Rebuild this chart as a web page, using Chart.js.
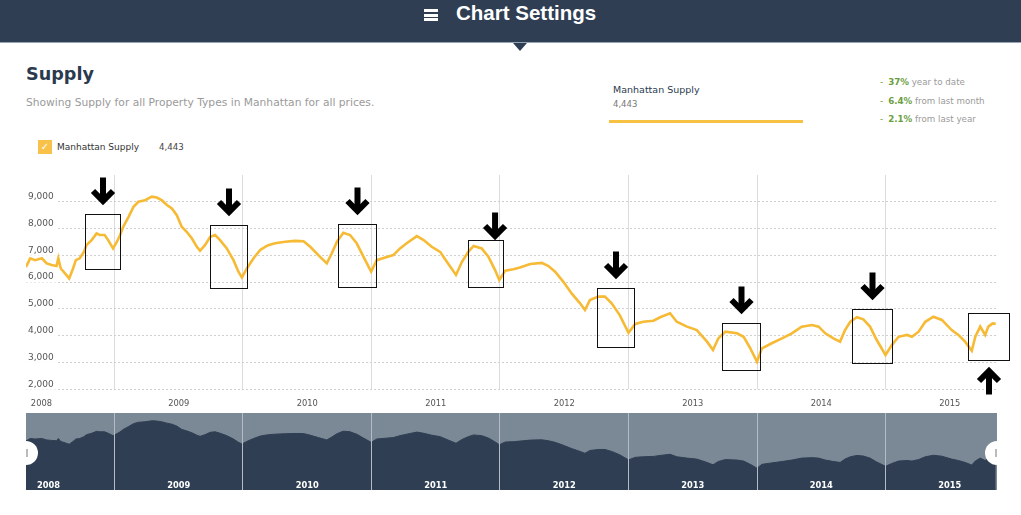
<!DOCTYPE html>
<html><head><meta charset="utf-8">
<script src="https://cdn.jsdelivr.net/npm/chart.js@4.4.1/dist/chart.umd.min.js"></script>
<style>
html,body{margin:0;padding:0;background:#fff;width:1021px;height:515px;overflow:hidden;font-family:"DejaVu Sans",Verdana,sans-serif;}
.a{position:absolute;white-space:nowrap;}
#hdr{left:0;top:0;width:1021px;height:42px;background:#2f3e52;}
#hdrline{left:0;top:42px;width:1021px;height:1px;background:#97a6b6;}
#hamb i{position:absolute;left:0;width:14px;height:3px;background:#fff;}
#hdrtxt{left:456px;top:1px;height:29px;line-height:29px;font:bold 20.5px "Liberation Sans",Arial,sans-serif;color:#fff;}
#tri{left:513px;top:43px;width:0;height:0;border-left:7px solid transparent;border-right:7px solid transparent;border-top:8px solid #2f3e52;}
#title{left:26px;top:66px;line-height:17.6px;font-weight:bold;font-size:17.6px;color:#2b3a4e;}
#sub{left:26px;top:96px;line-height:13px;font-size:10.7px;color:#9a9a9a;}
#lgbox{left:38px;top:140px;width:14px;height:14px;background:#f8c24a;color:#fff;font-size:10px;line-height:14px;text-align:center;}
#lgname{left:57px;top:141px;line-height:12px;font-size:9px;color:#333;}
#lgval{left:159px;top:141px;line-height:12px;font-size:8.6px;color:#444;}
#rpname{left:613px;top:84px;line-height:12px;font-size:9.5px;color:#2b3a4e;}
#rpval{left:613px;top:98px;line-height:12px;font-size:8.5px;color:#777;}
#rpbar{left:609px;top:120px;width:194px;height:3px;background:#f7c244;}
.st{left:880px;line-height:12px;font-size:8.7px;color:#9a9a9a;}
.st b{color:#6b9e3f;}
.st .d{color:#6b9e3f;margin-right:5px;}
canvas{position:absolute;}
#main{left:0;top:165px;}
#nav{left:26px;top:413px;background:#7b8896;}
.handle{position:absolute;top:441px;width:24px;height:24px;border-radius:50%;background:#fff;}
.handle i{position:absolute;top:8px;width:2px;height:8px;background:#bbb;}
</style></head>
<body>
<div id="hdr" class="a"></div>
<div id="hdrline" class="a"></div>
<div id="hamb" class="a" style="left:424px;top:9px;width:14px;height:13px;"><i style="top:0"></i><i style="top:4.5px"></i><i style="top:9px"></i></div>
<div id="hdrtxt" class="a">Chart Settings</div>
<div id="tri" class="a"></div>
<div id="title" class="a">Supply</div>
<div id="sub" class="a">Showing Supply for all Property Types in Manhattan for all prices.</div>
<div id="lgbox" class="a">✓</div>
<div id="lgname" class="a"></div>
<div id="lgval" class="a"></div>
<div id="rpname" class="a"></div>
<div id="rpval" class="a"></div>
<div id="rpbar" class="a"></div>
<div id="stats"></div>
<canvas id="main" width="1021" height="245"></canvas>
<canvas id="nav" width="971" height="77"></canvas>
<div class="handle" style="left:14px"><i style="left:12px"></i></div>
<div class="handle" style="left:985px"><i style="left:10px"></i></div>
<script>
// ---------- data ----------
const seriesName = "Manhattan Supply";
const dates = ["2008-04-24","2008-05-06","2008-05-20","2008-06-08","2008-06-22","2008-07-06","2008-07-20","2008-07-25","2008-08-01","2008-08-13","2008-08-25","2008-09-05","2008-09-13","2008-09-24","2008-10-06","2008-10-13","2008-10-28","2008-11-11","2008-11-20","2008-12-04","2008-12-14","2008-12-28",
"2009-01-08","2009-01-17","2009-01-26","2009-02-10","2009-02-24","2009-03-10","2009-03-29","2009-04-17","2009-05-01","2009-05-15","2009-05-30","2009-06-13","2009-06-27","2009-07-11","2009-07-25","2009-08-09","2009-08-23","2009-09-01","2009-09-15","2009-09-30","2009-10-14","2009-10-28","2009-11-16","2009-12-05","2009-12-19","2009-12-29",
"2010-01-12","2010-01-31","2010-02-19","2010-03-05","2010-03-14","2010-04-02","2010-05-01","2010-05-29","2010-06-22","2010-07-11","2010-08-03","2010-08-27","2010-09-10","2010-09-25","2010-10-13","2010-11-01","2010-11-20","2010-12-09","2010-12-31",
"2011-01-16","2011-02-09","2011-03-04","2011-03-23","2011-04-11","2011-05-10","2011-05-29","2011-06-21","2011-07-15","2011-08-03","2011-08-29","2011-09-15","2011-10-03","2011-10-18","2011-11-10","2011-11-29","2011-12-18","2011-12-30",
"2012-01-16","2012-02-08","2012-02-27","2012-03-27","2012-04-29","2012-05-18","2012-06-06","2012-06-29","2012-07-23","2012-08-16","2012-08-30","2012-09-13","2012-10-07","2012-10-26","2012-11-14","2012-12-07",
"2013-01-01","2013-01-20","2013-02-12","2013-03-13","2013-04-01","2013-04-29","2013-05-18","2013-06-16","2013-07-14","2013-08-12","2013-08-29","2013-09-13","2013-10-03","2013-11-05","2013-11-24","2013-12-13",
"2014-01-01","2014-01-15","2014-02-12","2014-03-13","2014-04-10","2014-05-08","2014-06-06","2014-06-25","2014-07-14","2014-08-06","2014-08-25","2014-09-08","2014-09-23","2014-10-12","2014-10-30","2014-11-18","2014-12-07",
"2015-01-01","2015-01-19","2015-02-07","2015-03-03","2015-03-17","2015-04-05","2015-04-24","2015-05-17","2015-06-10","2015-07-08","2015-07-27","2015-08-15","2015-09-03","2015-09-13","2015-09-27","2015-10-11","2015-10-20","2015-11-01","2015-11-10"];
const supply = [6570,6890,6820,6890,6700,6640,6600,6890,6510,6330,6140,6510,6820,6890,7130,7380,7570,7820,7760,7760,7570,7260,
7510,7760,8070,8440,8810,9000,9060,9190,9160,9060,8880,8750,8500,8070,7880,7630,7320,7170,7380,7690,7760,7570,7260,6820,6390,6180,
6510,6890,7200,7320,7380,7450,7510,7540,7530,7320,7010,6700,7070,7510,7840,7760,7450,6950,6390,
6820,6920,7010,7260,7450,7720,7570,7320,7130,6760,6270,6760,7130,7350,7260,6950,6450,6080,
6430,6480,6550,6680,6720,6600,6390,6020,5580,5210,4960,5330,5460,5460,5210,4770,
4110,4440,4520,4560,4690,4840,4520,4340,4210,3780,3470,3900,4150,4090,3960,3530,
3030,3530,3720,3900,4090,4340,4400,4340,4090,3900,3780,4210,4520,4690,4610,4340,3840,
3280,3650,3960,4030,3960,4150,4520,4710,4590,4210,4030,3780,3440,3960,4340,4030,4340,4460,4443];
const years = ["2008","2009","2010","2011","2012","2013","2014","2015"];
const yTickValues = [2000,3000,4000,5000,6000,7000,8000,9000];
const statValues = ["37%","6.4%","2.1%"];
const statLabels = ["year to date","from last month","from last year"];
// highlighted periods: date range and value range, arrow direction
const highlights = [
  {from:"2008-10-09", to:"2009-01-18", low:6490, high:8540, dir:"down"},
  {from:"2009-09-28", to:"2010-01-13", low:5790, high:8130, dir:"down"},
  {from:"2010-09-27", to:"2011-01-13", low:5830, high:8160, dir:"down"},
  {from:"2011-10-02", to:"2012-01-10", low:5820, high:7560, dir:"down", arrowAt:"2011-12-18", gap:1},
  {from:"2012-10-03", to:"2013-01-17", low:3590, high:5770, dir:"down"},
  {from:"2013-09-23", to:"2014-01-09", low:2720, high:4460, dir:"down"},
  {from:"2014-09-28", to:"2015-01-20", low:2980, high:5000, dir:"down"},
  {from:"2015-08-23", to:"2015-12-17", low:3090, high:4860, dir:"up"}
];

// ---------- helpers ----------
const fmt = v => v.toLocaleString('en-US');
function toYear(s){
  const y = +s.slice(0,4);
  const d = Date.parse(s+'T00:00:00Z'), a = Date.UTC(y,0,1), b = Date.UTC(y+1,0,1);
  return y + (d-a)/(b-a);
}
const tx = dates.map(toYear);
const points = tx.map((x,i)=>({x:x, y:supply[i]}));
const xMin = tx[0], xMax = tx[tx.length-1] + 0.01;
function yearTicks(firstOffset){
  const t = [];
  years.forEach((yl,i)=>{
    const y = +yl;
    if (y > xMin) t.push({value:y, txt:''});
    t.push({value: i===0 ? xMin+firstOffset : y+0.5, txt: yl});
  });
  return t.sort((a,b)=>a.value-b.value);
}

// ---------- text ----------
const latest = fmt(supply[supply.length-1]);
document.getElementById('lgname').textContent = seriesName;
document.getElementById('lgval').textContent = latest;
document.getElementById('rpname').textContent = seriesName;
document.getElementById('rpval').textContent = latest;
const stTops = [76, 94.5, 112.5];
document.getElementById('stats').innerHTML = statValues.map((v,i)=>
  `<div class="a st" style="top:${stTops[i]}px"><span class="d">-</span><b>${v}</b> ${statLabels[i]}</div>`).join('');

// ---------- annotation plugin ----------
function arrow(ctx, cx, tip, dir){
  const s = dir==='down' ? 1 : -1;
  ctx.save();
  ctx.fillStyle = '#000'; ctx.strokeStyle = '#000';
  ctx.fillRect(cx-3, dir==='down' ? tip-27 : tip+5, 6, 22);
  ctx.lineWidth = 6; ctx.lineJoin = 'miter'; ctx.lineCap = 'butt';
  ctx.beginPath();
  ctx.moveTo(cx-10, tip - s*13.5);
  ctx.lineTo(cx, tip - s*3.5);
  ctx.lineTo(cx+10, tip - s*13.5);
  ctx.stroke();
  ctx.restore();
}
const annoPlugin = {
  id:'anno',
  afterDatasetsDraw(chart){
    const {ctx} = chart, xs = chart.scales.x, ys = chart.scales.y;
    ctx.save();
    ctx.strokeStyle = '#111'; ctx.lineWidth = 1;
    highlights.forEach(h=>{
      const x0 = Math.round(xs.getPixelForValue(toYear(h.from)))+0.5;
      const x1 = Math.round(xs.getPixelForValue(toYear(h.to)))+0.5;
      const y0 = Math.round(ys.getPixelForValue(h.high))+0.5;
      const y1 = Math.round(ys.getPixelForValue(h.low))+0.5;
      ctx.strokeRect(x0, y0, x1-x0, y1-y0);
      const cx = h.arrowAt ? xs.getPixelForValue(toYear(h.arrowAt)) : (x0+x1)/2;
      const gap = h.gap !== undefined ? h.gap : 10;
      if (h.dir==='down') arrow(ctx, cx, y0-gap, 'down');
      else arrow(ctx, cx, y1+7, 'up');
    });
    ctx.restore();
  }
};

const tickFont = {family:'DejaVu Sans', size:8.3};

// ---------- main chart ----------
new Chart(document.getElementById('main'), {
  type:'line',
  data:{datasets:[{label:seriesName, data:points, borderColor:'#f6ba35', borderWidth:2.6, pointRadius:0, tension:0, fill:false}]},
  options:{
    responsive:false, animation:false, events:[],
    layout:{padding:{left:26, right:24, top:10, bottom:0}},
    plugins:{legend:{display:false}, tooltip:{enabled:false}},
    scales:{
      x:{type:'linear', min:xMin, max:xMax,
        afterBuildTicks:s=>{s.ticks = yearTicks(0.12);},
        afterFit:s=>{s.height = 20.7;},
        grid:{drawTicks:false, color:c=> (c.tick && c.tick.txt) ? 'rgba(0,0,0,0)' : '#dcdcdc'},
        border:{display:false},
        ticks:{autoSkip:false, maxRotation:0, padding:10, color:'#555', font:tickFont, callback:(v,i,ts)=>ts[i].txt}
      },
      y:{min:2000, max:10000,
        afterBuildTicks:s=>{s.ticks = yTickValues.map(v=>({value:v}));},
        afterFit:s=>{s.width = 0;},
        grid:{drawTicks:false, color:'#cfcfcf'},
        border:{display:false, dash:[2,2]},
        ticks:{mirror:true, padding:2, labelOffset:-5, color:'#555', font:{family:'DejaVu Sans', size:9},
          showLabelBackdrop:true, backdropColor:'#fff', backdropPadding:{top:0,bottom:0,left:2,right:3},
          callback:v=>fmt(v)}
      }
    }
  },
  plugins:[annoPlugin]
});

// ---------- navigator ----------
new Chart(document.getElementById('nav'), {
  type:'line',
  data:{datasets:[{data:points, borderColor:'#2f3e52', backgroundColor:'#2f3e52', borderWidth:1, pointRadius:0, tension:0, fill:'start'}]},
  options:{
    responsive:false, animation:false, events:[],
    layout:{padding:0},
    plugins:{legend:{display:false}, tooltip:{enabled:false}},
    scales:{
      x:{type:'linear', min:xMin, max:xMax,
        afterBuildTicks:s=>{s.ticks = yearTicks(0.175);},
        afterFit:s=>{s.height = 0;},
        grid:{z:1, drawTicks:false, color:c=> (c.tick && c.tick.txt) ? 'rgba(0,0,0,0)' : '#b3bcc6'},
        border:{display:false},
        ticks:{z:1, mirror:true, autoSkip:false, maxRotation:0, padding:-1, color:'#fff', font:{family:'DejaVu Sans', size:8.3, weight:'bold'}, callback:(v,i,ts)=>ts[i].txt}
      },
      y:{display:false, min:200, max:10200}
    }
  }
});
</script>
</body></html>
